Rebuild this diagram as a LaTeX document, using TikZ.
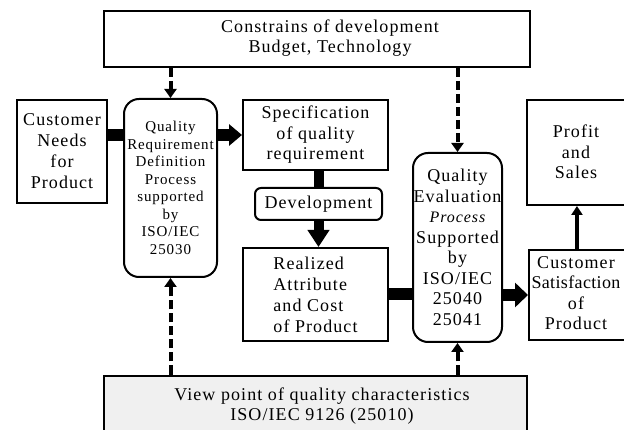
\documentclass[tikz,border=0pt]{standalone}
\usepackage{fontspec}
\setmainfont{Liberation Serif}[LetterSpace=6]
\usetikzlibrary{arrows.meta,calc}
\tikzset{
  box/.style={draw, line width=2pt, inner sep=0pt, fill=white, align=center},
  rbox/.style={box, rounded corners=15pt},
  big/.style={font=\fontsize{18}{20.5}\selectfont},
  small/.style={font=\fontsize{15}{17.5}\selectfont},
  bar/.style={line width=12pt},
  fatarrow/.style={line width=12pt, -{Triangle[width=21pt,length=13pt]}},
  slimarrow/.style={line width=4pt, -{Triangle[width=11pt,length=9pt]}},
  dasharrow/.style={line width=4pt, dash pattern=on 9pt off 4pt, -{Triangle[width=12pt,length=9pt]}},
  lbl/.style={inner sep=0pt, align=center, big}
}
\begin{document}
\begin{tikzpicture}[x=1pt,y=-1pt]
\fill[white] (0,0) rectangle (624,430);
\useasboundingbox (0,0) rectangle (624,430);

% boxes
\node[box, minimum width=426pt, minimum height=56pt] (top) at (317,39) {};
\node[lbl] (toplbl) at (330,38) {Constrains of development\\Budget, Technology};

\node[box, fill=black!6, minimum width=423pt, minimum height=64pt] (bot) at (315.5,407.5) {};
\node[lbl] (botlbl) at (322,406) {View point of quality characteristics\\ISO/IEC 9126 (25010)};

\node[box, big, minimum width=90pt, minimum height=103pt, font=\fontsize{18}{21}\selectfont] (cn) at (62,151.5) {Customer\\Needs\\for\\Product};

\node[rbox, small, minimum width=93pt, minimum height=178pt] (qrd) at (170.5,188) {Quality\\Requirement\\Definition\\Process\\supported\\by\\ISO/IEC\\25030};

\node[box, big, minimum width=145pt, minimum height=70pt] (spec) at (315.5,135) {Specification\\of quality\\requirement};

\node[box, big, rounded corners=6pt, minimum width=127pt, minimum height=32pt] (dev) at (318.5,204) {Development};

\node[box, big, align=left, minimum width=145pt, minimum height=93pt, font=\fontsize{18}{21}\selectfont] (real) at (315.5,294.5) {Realized\\Attribute\\and Cost\\of Product};

\node[rbox, big, minimum width=89pt, minimum height=189pt] (qe) at (457.5,247.5) {Quality\\Evaluation\\{\fontsize{16}{20.5}\selectfont\itshape Process}\\Supported\\by\\ISO/IEC\\25040\\25041};

\node[box, minimum width=104pt, minimum height=90pt] (cs) at (581,295) {};
\node[lbl] (cslbl) at (576,293) {Customer\\{\addfontfeatures{LetterSpace=2}Satisfaction}\\of\\Product};

\node[box, minimum width=106pt, minimum height=105pt] (profit) at (580,152.5) {};
\node[lbl] (profitlbl) at (576,152) {Profit\\and\\Sales};

% connectors
\draw[bar] (cn.east |- spec.west) -- (qrd.west |- spec.west);
\draw[fatarrow] (qrd.east |- spec.west) -- (spec.west);
\draw[line width=10pt] (dev.north |- spec.south) -- (dev.north);
\draw[line width=10pt, -{Triangle[width=21pt,length=17pt]}] (dev.south) -- (dev.south |- real.north);
\draw[bar] (real.east) -- (qe.west |- real.east);
\draw[fatarrow, -{Triangle[width=24pt,length=13pt]}] (qe.east |- cs.west) -- (cs.west);
\coordinate (csup) at ($(cs.north west)!0.462!(cs.north east)$);
\draw[slimarrow] (csup) -- (csup |- profit.south);

\draw[dasharrow] (qrd.north |- top.south) -- (qrd.north);
\draw[dasharrow] (qe.north |- top.south) -- (qe.north);
\draw[dasharrow] (qrd.south |- bot.north) -- (qrd.south);
\draw[dasharrow] (qe.south |- bot.north) -- (qe.south);
\end{tikzpicture}
\end{document}
